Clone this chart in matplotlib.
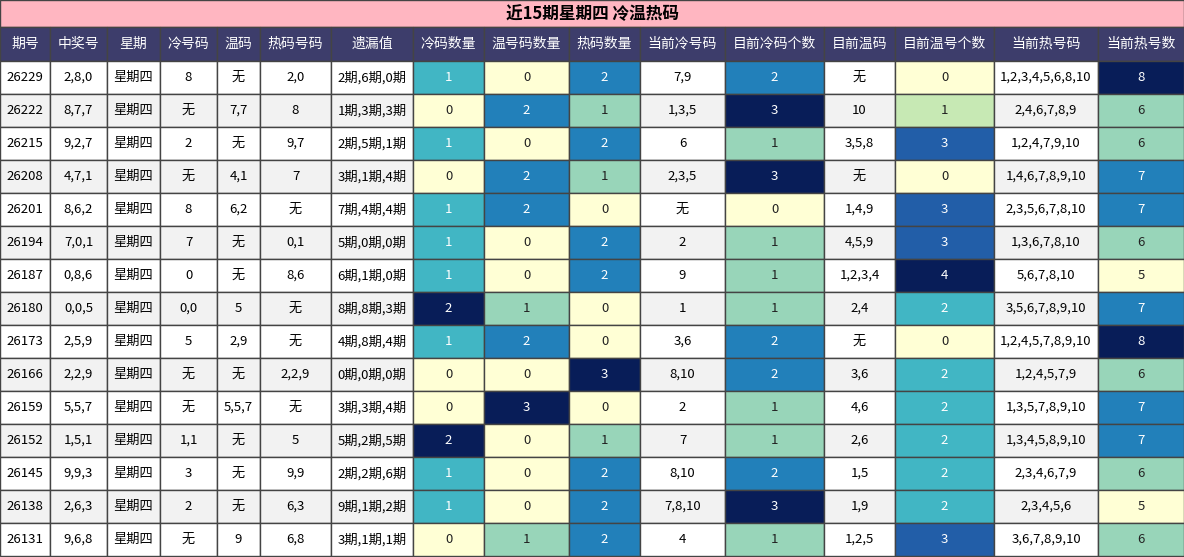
import matplotlib
matplotlib.use("Agg")
import matplotlib.pyplot as plt
from matplotlib.patches import Rectangle

plt.rcParams['font.family'] = ['Noto Sans CJK SC', 'DejaVu Sans']

title = "近15期星期四 冷温热码"
headers = ["期号","中奖号","星期","冷号码","温码","热码号码","遗漏值","冷码数量","温号码数量","热码数量","当前冷号码","目前冷码个数","目前温码","目前温号个数","当前热号码","当前热号数"]
issue = ["26229","26222","26215","26208","26201","26194","26187","26180","26173","26166","26159","26152","26145","26138","26131"]
draw = ["2,8,0","8,7,7","9,2,7","4,7,1","8,6,2","7,0,1","0,8,6","0,0,5","2,5,9","2,2,9","5,5,7","1,5,1","9,9,3","2,6,3","9,6,8"]
weekday = ["星期四"]*15
cold = ["8","无","2","无","8","7","0","0,0","5","无","无","1,1","3","2","无"]
warm = ["无","7,7","无","4,1","6,2","无","无","5","2,9","无","5,5,7","无","无","无","9"]
hot = ["2,0","8","9,7","7","无","0,1","8,6","无","无","2,2,9","无","5","9,9","6,3","6,8"]
miss = ["2期,6期,0期","1期,3期,3期","2期,5期,1期","3期,1期,4期","7期,4期,4期","5期,0期,0期","6期,1期,0期","8期,8期,3期","4期,8期,4期","0期,0期,0期","3期,3期,4期","5期,2期,5期","2期,2期,6期","9期,1期,2期","3期,1期,1期"]
cold_n = [1,0,1,0,1,1,1,2,1,0,0,2,1,1,0]
warm_n = [0,2,0,2,2,0,0,1,2,0,3,0,0,0,1]
hot_n = [2,1,2,1,0,2,2,0,0,3,0,1,2,2,2]
cur_cold = ["7,9","1,3,5","6","2,3,5","无","2","9","1","3,6","8,10","2","7","8,10","7,8,10","4"]
cur_cold_n = [2,3,1,3,0,1,1,1,2,2,1,1,2,3,1]
cur_warm = ["无","10","3,5,8","无","1,4,9","4,5,9","1,2,3,4","2,4","无","3,6","4,6","2,6","1,5","1,9","1,2,5"]
cur_warm_n = [0,1,3,0,3,3,4,2,0,2,2,2,2,2,3]
cur_hot = ["1,2,3,4,5,6,8,10","2,4,6,7,8,9","1,2,4,7,9,10","1,4,6,7,8,9,10","2,3,5,6,7,8,10","1,3,6,7,8,10","5,6,7,8,10","3,5,6,7,8,9,10","1,2,4,5,7,8,9,10","1,2,4,5,7,9","1,3,5,7,8,9,10","1,3,4,5,8,9,10","2,3,4,6,7,9","2,3,4,5,6","3,6,7,8,9,10"]
cur_hot_n = [8,6,6,7,7,6,5,7,8,6,7,7,6,5,6]

cols = [issue, draw, weekday, cold, warm, hot, miss, cold_n, warm_n, hot_n, cur_cold, cur_cold_n, cur_warm, cur_warm_n, cur_hot, cur_hot_n]
colored = {7, 8, 9, 11, 13, 15}
edges = [0,50,107,160,217,260,331,413,484,569,640,725,824,895,994,1098,1184]

W, H = 1184, 557
fig = plt.figure(figsize=(W/100, H/100), dpi=100)
ax = fig.add_axes([0,0,1,1])
ax.set_xlim(0, W); ax.set_ylim(H, 0); ax.axis('off')

def cmap(f):
    stops = [(0,'#FFFFD5'),(0.25,'#C7E9B4'),(0.34,'#98D5B9'),(0.5,'#41B6C4'),(0.67,'#2280BA'),(0.75,'#225EA8'),(1,'#081D58')]
    best = min(stops, key=lambda s: abs(s[0]-f))
    return best[1]

ec = '#444444'
ax.add_patch(Rectangle((0,0), W, 27, facecolor='#FFB6C1', edgecolor=ec, lw=1))
ax.text(W/2, 14, title, ha='center', va='center', fontsize=12, fontweight='bold', color='black')
for i,h in enumerate(headers):
    x0, x1 = edges[i], edges[i+1]
    ax.add_patch(Rectangle((x0,27), x1-x0, 34, facecolor='#3D3D6B', edgecolor=ec, lw=1))
    ax.text((x0+x1)/2, 44, h, ha='center', va='center', fontsize=10, color='white')
rh = 33
for j, col in enumerate(cols):
    x0, x1 = edges[j], edges[j+1]
    if j in colored:
        lo, hi = min(col), max(col)
    for r in range(15):
        y0 = 61 + r*rh
        v = col[r]
        fc = '#FFFFFF' if r % 2 == 0 else '#F2F2F2'
        tc = 'black'
        if j in colored:
            f = (v-lo)/(hi-lo) if hi > lo else 0
            fc = cmap(f)
            tc = 'white' if f >= 0.5 else '#222222'
        ax.add_patch(Rectangle((x0,y0), x1-x0, rh, facecolor=fc, edgecolor=ec, lw=1))
        ax.text((x0+x1)/2, y0+rh/2, str(v), ha='center', va='center', fontsize=9.5, color=tc)
fig.savefig('out.png', dpi=100)
